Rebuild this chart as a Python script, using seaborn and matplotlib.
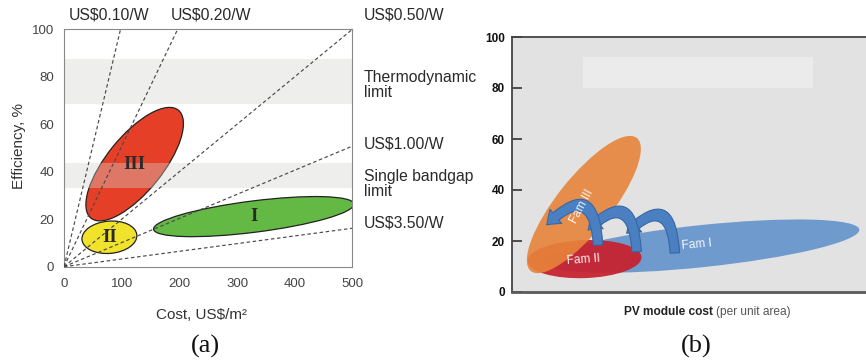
import matplotlib
matplotlib.use("Agg")
import matplotlib.pyplot as plt
import seaborn as sns
import pandas as pd
from matplotlib.patches import Ellipse, Rectangle, FancyArrowPatch
from matplotlib.transforms import Affine2D

# ---------------- data: panel (a) ----------------
price_labels = ["US$0.10/W", "US$0.20/W", "US$0.50/W", "US$1.00/W", "US$3.50/W"]
line_end_cost = [98, 197, 500, 500, 500]        # where each $/W line leaves the frame
line_end_eff = [100, 100, 100, 50.8, 16.2]
band_labels = ["Thermodynamic\nlimit", "Single bandgap\nlimit"]
band_low = [68.4, 33.0]
band_high = [87.5, 43.5]
gen_names = ["I", "II", "III"]
gen_cost = [329, 78.7, 122.5]
gen_eff = [21.1, 12.4, 43.2]
gen_len = [85.1, 23.2, 58.5]      # ellipse axes, in efficiency units
gen_thick = [13.2, 13.6, 23.5]
gen_angle = [7.2, 5, 51]
x_ticks_a = [0, 100, 200, 300, 400, 500]
y_ticks = [0, 20, 40, 60, 80, 100]

# ---------------- data: panel (b) ----------------
fam_names = ["Fam I", "Fam II", "Fam III"]
fam_x = [53.7, 20.5, 20.3]
fam_y = [18.0, 12.9, 34.3]
fam_len = [124, 44.7, 66.7]
fam_thick = [16.5, 14.9, 21.2]
fam_angle = [6, 2, 51.5]
fam_label_x = [52.2, 20.1, 19.8]
fam_label_y = [18.4, 12.5, 33.5]
fam_label_rot = [5, 4, 62]
arrow_tail_x = [46.0, 35.2, 24.3]
arrow_tail_y = [15.3, 15.8, 18.4]
arrow_head_x = [32.4, 21.5, 9.8]
arrow_head_y = [23.0, 24.3, 26.3]
pale_box = [20.1, 79.9, 64.9, 12.4]   # x, y, w, h

# ---------------- styling ----------------
sns.set_theme(style="white")
plt.rcParams["font.family"] = ["Liberation Sans", "DejaVu Sans"]

W, H = 866, 363
fig = plt.figure(figsize=(W / 100, H / 100), dpi=100)
ax1 = fig.add_axes([64 / W, 1 - 266.7 / H, 288.4 / W, 237.4 / H])
ax2 = fig.add_axes([512 / W, 1 - 292 / H, 354 / W, 255 / H])


def kx(ax, xr, yr):
    pos = ax.get_position()
    return (pos.width * W / xr) / (pos.height * H / yr)


def add_ellipse(ax, k, cx, cy, w, h, ang, **kw):
    tr = Affine2D().scale(1.0 / k, 1.0) + ax.transData
    e = Ellipse((cx * k, cy), w, h, angle=ang, transform=tr, **kw)
    ax.add_patch(e)
    return e

# ---------------- panel (a) ----------------
ax1.set_xlim(0, 500)
ax1.set_ylim(0, 100)
k1 = kx(ax1, 500, 100)

gen_colors = ["#63b944", "#f1e22c", "#e63f28"]
for i in range(3):
    add_ellipse(ax1, k1, gen_cost[i], gen_eff[i], gen_len[i], gen_thick[i], gen_angle[i],
                facecolor=gen_colors[i], edgecolor="#222222", lw=0.9, zorder=2)
    ax1.text(gen_cost[i], gen_eff[i], gen_names[i], ha="center", va="center",
             family=["Liberation Serif"], fontweight="bold", fontsize=13.5,
             color="#2a2a2a", zorder=5)

for lo, hi in zip(band_low, band_high):
    ax1.axhspan(lo, hi, facecolor="#d4d4cf", alpha=0.38, lw=0, zorder=2.5)

for i in range(len(price_labels)):
    df = pd.DataFrame({"cost": [0, line_end_cost[i]], "eff": [0, line_end_eff[i]]})
    sns.lineplot(data=df, x="cost", y="eff", ax=ax1, color="#4a4a4a", lw=0.85,
                 linestyle=(0, (3.0, 2.2)), zorder=3)

ax1.set_xticks(x_ticks_a)
ax1.set_yticks(y_ticks)
ax1.tick_params(direction="in", length=7, width=0.8, color="#777777",
                labelsize=9.5, labelcolor="#444444")
ax1.tick_params(axis="x", pad=8)
ax1.tick_params(axis="y", pad=7)
for s in ax1.spines.values():
    s.set_color("#888888")
    s.set_linewidth(0.8)

ax1.set_xlabel("Cost, US$/m²", fontsize=11, color="#333333")
ax1.set_ylabel("Efficiency, %", fontsize=11, color="#333333")
ax1.xaxis.label.set_va("center")
ax1.yaxis.label.set_va("center")
ax1.xaxis.set_label_coords(0.477, -0.203)
ax1.yaxis.set_label_coords(-0.157, 0.51)

lab_kw = dict(fontsize=11.3, color="#2a2a2a", ha="left", va="center",
              clip_on=False, linespacing=1.05)
label_pos = [(8, 105.9), (185, 105.9), (519.6, 106.2), (519.6, 51.7), (519.6, 18.5)]
for (x, y), t in zip(label_pos, price_labels):
    ax1.text(x, y, t, **lab_kw)
band_label_pos = [(519.6, 76.6), (519.6, 34.8)]
for (x, y), t in zip(band_label_pos, band_labels):
    ax1.text(x, y, t, **lab_kw)

# ---------------- panel (b) ----------------
ax2.set_xlim(0, 100)
ax2.set_ylim(0, 100)
ax2.set_facecolor("#e2e2e2")
k2 = kx(ax2, 100, 100)

ax2.add_patch(Rectangle((pale_box[0], pale_box[1]), pale_box[2], pale_box[3],
                        facecolor="#ebebeb", lw=0, zorder=1))

fam_colors = ["#6b98cd", "#c8202e", "#e8843a"]
fam_alpha = [0.97, 0.93, 0.9]
for i in range(3):
    add_ellipse(ax2, k2, fam_x[i], fam_y[i], fam_len[i], fam_thick[i], fam_angle[i],
                facecolor=fam_colors[i], edgecolor="none", alpha=fam_alpha[i], zorder=2 + i)
    ax2.text(fam_label_x[i], fam_label_y[i], fam_names[i], rotation=fam_label_rot[i],
             ha="center", va="center", fontsize=8.5, color="white", alpha=0.9, zorder=8)

for i in range(3):
    arr = FancyArrowPatch((arrow_tail_x[i], arrow_tail_y[i]),
                          (arrow_head_x[i], arrow_head_y[i]),
                          connectionstyle="angle3,angleA=93,angleB=45",
                          arrowstyle="simple,head_length=0.45,head_width=0.66,tail_width=0.34",
                          mutation_scale=20, shrinkA=0, shrinkB=0,
                          facecolor="#4a80c2", edgecolor="#3767a3", lw=0.8, zorder=7)
    ax2.add_patch(arr)

ax2.set_xticks([])
ax2.set_yticks(y_ticks)
ax2.tick_params(axis="y", direction="in", length=7, width=1.2, color="#333333",
                labelsize=8.5, labelcolor="#111111", pad=5, left=True)
for lbl in ax2.get_yticklabels():
    lbl.set_fontweight("bold")
ax2.spines["right"].set_visible(False)
for side in ["left", "top"]:
    ax2.spines[side].set_color("#444444")
    ax2.spines[side].set_linewidth(1.3)
ax2.spines["bottom"].set_color("#5a5a5a")
ax2.spines["bottom"].set_linewidth(2.0)

fig.text(713 / W, 1 - 312 / H, "PV module cost", ha="right", va="center",
         fontsize=8.6, fontweight="bold", color="#222222")
fig.text(716 / W, 1 - 312 / H, "(per unit area)", ha="left", va="center",
         fontsize=8.6, color="#555555")

# panel letters
fig.text(205 / W, 1 - 346 / H, "(a)", ha="center", va="center",
         family=["Liberation Serif"], fontsize=19, color="#111111")
fig.text(696 / W, 1 - 346 / H, "(b)", ha="center", va="center",
         family=["Liberation Serif"], fontsize=19, color="#111111")

fig.savefig("out.png", dpi=100)
